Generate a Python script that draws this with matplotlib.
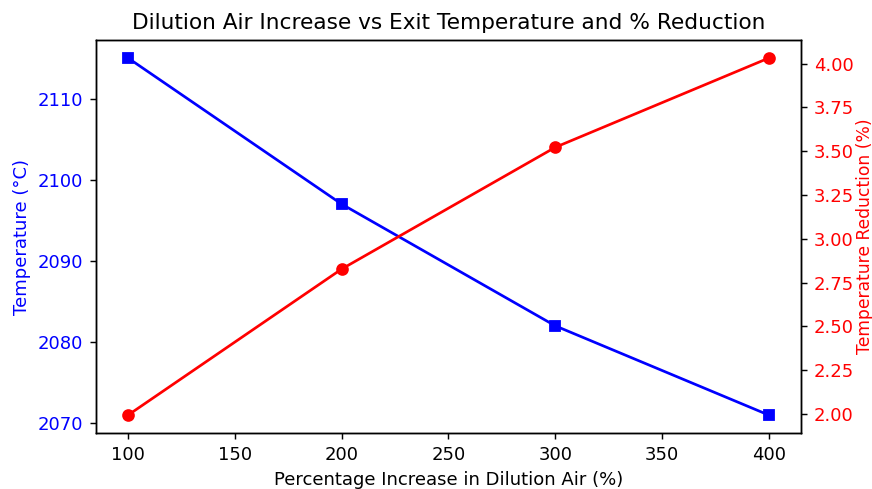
import matplotlib
matplotlib.use("Agg")
import matplotlib.pyplot as plt

dilution_increase = [100, 200, 300, 400]
exit_temperature = [2115, 2097, 2082, 2071]
temp_reduction = [1.993, 2.827, 3.522, 4.032]

DPI = 130
fig, ax1 = plt.subplots(figsize=(872 / DPI, 489 / DPI), dpi=DPI)
fig.subplots_adjust(left=0.110, right=0.9186, top=0.918, bottom=0.1145)

ax1.plot(dilution_increase, exit_temperature, color='blue', marker='s')
ax1.set_xlabel('Percentage Increase in Dilution Air (%)')
ax1.set_ylabel('Temperature (°C)', color='blue')
ax1.tick_params(axis='y', labelcolor='blue')

ax2 = ax1.twinx()
ax2.plot(dilution_increase, temp_reduction, color='red', marker='o')
ax2.set_ylabel('Temperature Reduction (%)', color='red', labelpad=1, fontsize=9.5)
ax2.tick_params(axis='y', labelcolor='red')

ax1.set_title('Dilution Air Increase vs Exit Temperature and % Reduction')

fig.savefig('out.png', dpi=DPI)
